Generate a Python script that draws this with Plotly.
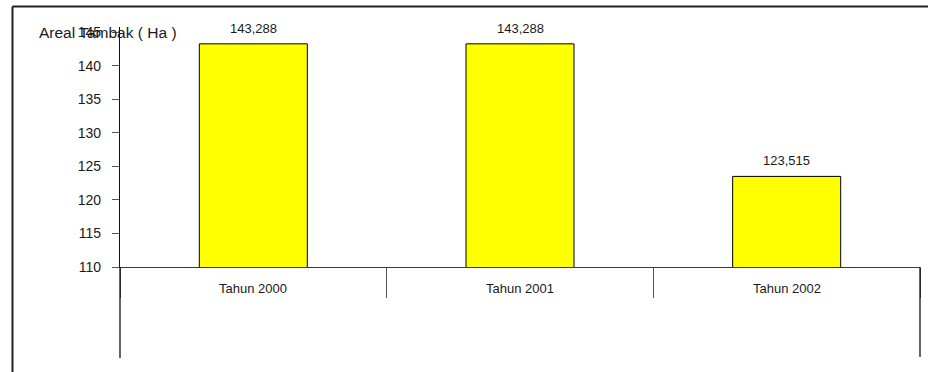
import plotly.graph_objects as go

# Luas areal tambak per tahun (ribu Ha)
categories = ["Tahun 2000", "Tahun 2001", "Tahun 2002"]
areal = [143.288, 143.288, 123.515]
y_ticks = [110, 115, 120, 125, 130, 135, 140, 145]

Y_MIN, Y_MAX = 110, 145.8
FONT = "Liberation Sans, Arial, sans-serif"
AXIS = "#3a3a3a"

W, H = 928, 372
L, R, T, B = 120, 8, 27, 105
plot_w, plot_h = W - L - R, H - T - B


def px_x(px):
    return (px - L) / plot_w


def px_y(py):
    return (H - B - py) / plot_h


fig = go.Figure()
fig.add_trace(go.Bar(
    x=categories,
    y=areal,
    width=0.405,
    marker=dict(color="#FFFF00", line=dict(color="#000000", width=1)),
    hoverinfo="x+y",
))

annotations = []
# value labels above each bar (decimal comma)
for cat, v in zip(categories, areal):
    annotations.append(dict(
        x=cat, y=v, xref="x", yref="y", text=f"{v:.3f}".replace(".", ","),
        showarrow=False, yanchor="bottom", yshift=6,
        font=dict(family=FONT, size=13, color="#1a1a1a"),
    ))
# category labels under the axis
for cat in categories:
    annotations.append(dict(
        x=cat, y=0, xref="x", yref="paper", text=cat,
        showarrow=False, yanchor="middle", yshift=-21,
        font=dict(family=FONT, size=13, color="#1a1a1a"),
    ))
# axis title
annotations.append(dict(
    x=px_x(37), y=145, xref="paper", yref="y", text="Areal Tambak ( Ha )",
    showarrow=False, xanchor="left", yanchor="middle",
    font=dict(family=FONT, size=15.5, color="#1a1a1a"),
))

shapes = [
    # y-axis line continues below the category axis
    dict(type="line", xref="paper", yref="paper", x0=0, x1=0,
         y0=0, y1=px_y(358), line=dict(color="#111111", width=1.3)),
    # right closing line of the category axis
    dict(type="line", xref="paper", yref="paper", x0=1, x1=1,
         y0=0, y1=px_y(357), line=dict(color="#111111", width=1.3)),
    # outer frame (top and left edges)
    dict(type="line", xref="paper", yref="paper", x0=px_x(12.5), x1=px_x(940),
         y0=px_y(6.5), y1=px_y(6.5), line=dict(color="#222222", width=2)),
    dict(type="line", xref="paper", yref="paper", x0=px_x(12.5), x1=px_x(12.5),
         y0=px_y(6.5), y1=px_y(380), line=dict(color="#222222", width=2)),
]

fig.update_layout(
    width=W, height=H,
    margin=dict(l=L, r=R, t=T, b=B, pad=0),
    paper_bgcolor="white", plot_bgcolor="white",
    showlegend=False,
    annotations=annotations,
    shapes=shapes,
    font=dict(family=FONT, size=13, color="#1a1a1a"),
    xaxis=dict(
        type="category", range=[-0.5, 2.5],
        showline=True, linecolor=AXIS, linewidth=1.3,
        ticks="outside", tickson="boundaries", ticklen=30,
        tickcolor="#555555", tickwidth=1.3,
        showticklabels=False, showgrid=False, zeroline=False,
        fixedrange=True,
    ),
    yaxis=dict(
        range=[Y_MIN, Y_MAX],
        tickvals=y_ticks,
        showline=True, linecolor="#111111", linewidth=1.3,
        ticks="outside", ticklen=7, tickcolor="#555555", tickwidth=1,
        ticklabelstandoff=8,
        tickfont=dict(family=FONT, size=14, color="#1a1a1a"),
        showgrid=False, zeroline=False, fixedrange=True,
    ),
)

fig.write_html("out.html")
